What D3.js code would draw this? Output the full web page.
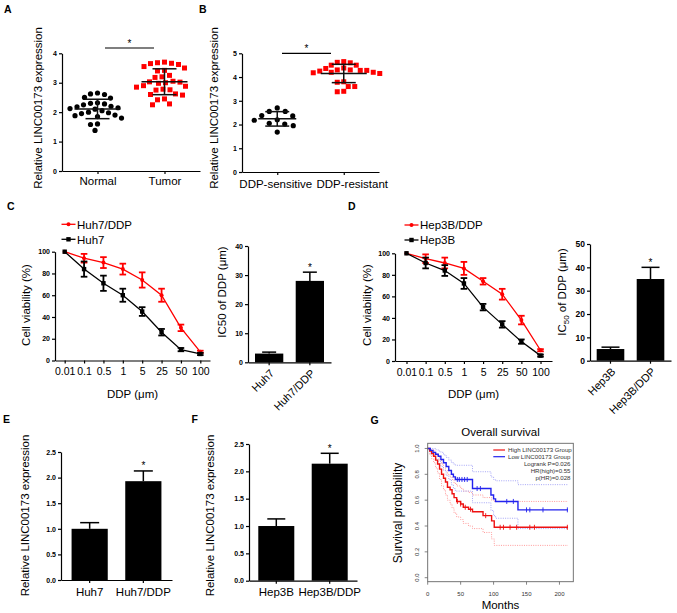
<!DOCTYPE html>
<html><head><meta charset="utf-8">
<script src="https://cdn.jsdelivr.net/npm/d3@7"></script>
<style>body{margin:0;background:#fff}</style>
</head><body>
<script>
// ================= DATA =================
// Panel A
const catsA = ["Normal", "Tumor"];
const normalVals = [2.65,2.62,2.6,2.5,2.48,2.32,2.3,2.28,2.25,2.2,2.18,2.15,2.12,2.1,2.05,2.0,1.98,1.95,1.9,1.88,1.85,1.8,1.6,1.58,1.38];
const tumorVals = [3.7,3.68,3.66,3.65,3.62,3.55,3.5,3.42,3.4,3.25,3.2,3.18,3.05,3.03,3.02,3.0,2.98,2.9,2.88,2.85,2.78,2.76,2.75,2.62,2.6,2.58,2.45,2.42,2.28,2.25];
const ticksA = [0,1,2,3,4];
// Panel B
const catsB = ["DDP-sensitive", "DDP-resistant"];
const sensitiveVals = [2.7,2.55,2.55,2.38,2.36,2.2,2.18,2.05,2.02,1.95,1.68];
const resistantVals = [4.65,4.62,4.6,4.5,4.5,4.38,4.36,4.3,4.3,4.28,4.28,4.25,4.2,4.2,4.18,4.15,3.8,3.78,3.6,3.6,3.4,3.38];
const ticksB = [0,1,2,3,4,5];
// Panels C / D line charts
const doseLabels = ["0.01","0.1","0.5","1","5","25","50","100"];
const viabTicks = [0,20,40,60,80,100];
const huh7DdpMean = [100,94,90,84,74,60,30,8];
const huh7DdpErr  = [0,4,5,5,7,6,3,1];
const huh7Mean    = [100,84,71,60,45,26,10,6];
const huh7Err     = [0,7,7,6,4,3,1.5,1];
const hep3bDdpMean = [100,95,91,86,74,62,38,10];
const hep3bDdpErr  = [0,4,5,6,3,5,4,1];
const hep3bMean    = [100,91,84,72,50,34,18,5];
const hep3bErr     = [0,5,5,5,3,3,2,1];
// IC50 insets
const ic50HuhCats = ["Huh7","Huh7/DDP"];
const ic50HuhVals = [3,28];
const ic50HuhErr  = [0.5,3];
const ic50HuhTicks = [0,10,20,30,40];
const ic50HepCats = ["Hep3B","Hep3B/DDP"];
const ic50HepVals = [5,35];
const ic50HepErr  = [0.8,5];
const ic50HepTicks = [0,10,20,30,40,50];
// Panels E / F
const exprHuhCats = ["Huh7","Huh7/DDP"];
const exprHuhVals = [1.0,1.93];
const exprHuhErr  = [0.12,0.2];
const exprHepCats = ["Hep3B","Hep3B/DDP"];
const exprHepVals = [1.0,2.14];
const exprHepErr  = [0.13,0.19];
const exprTicks = [0,0.5,1.0,1.5,2.0,2.5];
// Panel G survival
const highTimes = [0,3,6,9,12,15,18,21,24,27,30,34,37,40,44,50,54,62,68,84,97,101,213];
const highSurv  = [1,0.98,0.96,0.94,0.91,0.88,0.84,0.80,0.77,0.74,0.70,0.68,0.65,0.62,0.59,0.57,0.545,0.53,0.51,0.48,0.44,0.39,0.39];
const highUpper = [1,1,0.99,0.98,0.96,0.94,0.91,0.88,0.85,0.83,0.80,0.78,0.76,0.73,0.71,0.69,0.67,0.66,0.64,0.62,0.60,0.59,0.59];
const highLower = [1,0.95,0.92,0.89,0.85,0.81,0.76,0.71,0.68,0.64,0.60,0.57,0.54,0.50,0.47,0.45,0.42,0.40,0.38,0.35,0.30,0.25,0.25];
const highCensor = [45,50,57,65,88,110,115,125,135,155,162,212];
const lowTimes = [0,4,8,12,16,20,24,28,32,36,39,42,68,96,100,103,137,213];
const lowSurv  = [1,0.985,0.97,0.955,0.94,0.915,0.89,0.86,0.83,0.80,0.78,0.76,0.69,0.64,0.61,0.59,0.525,0.525];
const lowUpper = [1,1,1,0.99,0.98,0.97,0.95,0.93,0.91,0.89,0.88,0.87,0.82,0.78,0.76,0.75,0.72,0.72];
const lowLower = [1,0.96,0.94,0.92,0.90,0.86,0.83,0.79,0.76,0.72,0.69,0.67,0.58,0.52,0.48,0.46,0.38,0.38];
const lowCensor = [45,48,52,56,60,75,80,120,130,150,155,175,212];
const survXTicks = [0,50,100,150,200];
const survYTicks = [0,0.2,0.4,0.6,0.8,1.0];
const survLegend = ["High LINC00173 Group","Low LINC00173 Group"];
const survStats = ["Logrank P=0.026","HR(high)=0.55","p(HR)=0.028"];

// ================= DRAWING =================
const FONT = "'Liberation Sans', Arial, Helvetica, sans-serif";
const RED = "#ff0000";
const svg = d3.select("body").append("svg").attr("width",677).attr("height",613).attr("font-family",FONT);
svg.append("rect").attr("width",677).attr("height",613).attr("fill","#fff");

function panelLabel(t,x,y){ svg.append("text").attr("x",x).attr("y",y).attr("font-size",10.5).attr("font-weight","bold").text(t); }
function yLabel(text,cx,cy,size){
  return svg.append("text").attr("transform",`translate(${cx},${cy}) rotate(-90)`).attr("text-anchor","middle")
    .attr("dy","0.35em").attr("font-size",size||11.5).text(text);
}
function styleAxis(g,fs,bold){
  g.attr("font-family",FONT).attr("font-size",fs);
  g.select(".domain").attr("stroke","#000").attr("stroke-width",1.2);
  g.selectAll(".tick line").attr("stroke","#000").attr("stroke-width",1.2);
  g.selectAll(".tick text").attr("fill","#000").attr("font-weight",bold?"bold":"normal");
}
function star(x,y){ svg.append("text").attr("x",x).attr("y",y).attr("text-anchor","middle").attr("font-size",10).text("*"); }

function beeswarm(vals,y,d){
  const pts = vals.map(v=>({v,y:y(v)})).sort((a,b)=>d3.descending(a.v,b.v));
  const placed=[];
  pts.forEach(p=>{
    let off=0;
    for(let k=0;k<400;k++){
      const c=(k%2===0?1:-1)*Math.ceil(k/2)*0.5;
      if(placed.every(q=>Math.hypot(q.x-c,q.y-p.y)>=d)){off=c;break;}
    }
    p.x=off; placed.push(p);
  });
  return placed;
}

function scatterPanel(o){
  const y=d3.scaleLinear().domain([0,o.ticks[o.ticks.length-1]]).range([o.y0,o.y1]);
  const x=d3.scalePoint().domain(o.cats).range([o.x0,o.x1]).padding(o.pad);
  const gy=svg.append("g").attr("transform",`translate(${o.x0},0)`)
    .call(d3.axisLeft(y).tickValues(o.ticks).tickSize(3).tickSizeOuter(0).tickPadding(2).tickFormat(d3.format("d")));
  styleAxis(gy,7,true);
  const gx=svg.append("g").attr("transform",`translate(0,${o.y0})`)
    .call(d3.axisBottom(x).tickSize(3).tickSizeOuter(0).tickPadding(o.xpad));
  styleAxis(gx,11.5,false);
  gx.selectAll(".tick text").attr("dx",(d,i)=>o.lblDx[i]);
  o.series.forEach((vals,i)=>{
    const cx=x(o.cats[i]);
    const pts=beeswarm(vals,y,o.dia[i]);
    if(i===0){
      svg.append("g").selectAll("circle").data(pts).join("circle")
        .attr("cx",d=>cx+d.x).attr("cy",d=>d.y).attr("r",2.6).attr("fill","#000");
    } else {
      svg.append("g").selectAll("rect").data(pts).join("rect")
        .attr("x",d=>cx+d.x-2.5).attr("y",d=>d.y-2.5).attr("width",5).attr("height",5).attr("fill",RED);
    }
    const m=d3.mean(vals), sd=d3.deviation(vals);
    const g=svg.append("g").attr("stroke","#111").attr("stroke-width",1.5);
    g.append("line").attr("x1",cx-o.mw[i]).attr("x2",cx+o.mw[i]).attr("y1",y(m)).attr("y2",y(m));
    g.append("line").attr("x1",cx).attr("x2",cx).attr("y1",y(m-sd)).attr("y2",y(m+sd));
    [m-sd,m+sd].forEach(v=>g.append("line").attr("x1",cx-o.cw).attr("x2",cx+o.cw).attr("y1",y(v)).attr("y2",y(v)));
  });
  svg.append("line").attr("x1",o.sig[0]).attr("x2",o.sig[1]).attr("y1",o.sig[2]).attr("y2",o.sig[2]).attr("stroke","#000").attr("stroke-width",1.2);
  star((o.sig[0]+o.sig[1])/2,o.sig[2]-1.5);
}

function linePanel(o){
  const x=d3.scalePoint().domain(doseLabels).range([o.x0,o.x1]).padding(o.pad);
  const y=d3.scaleLinear().domain([0,100]).range([o.y0,o.y1]);
  const gy=svg.append("g").attr("transform",`translate(${o.x0},0)`)
    .call(d3.axisLeft(y).tickValues(viabTicks).tickSize(3).tickSizeOuter(0).tickPadding(2));
  styleAxis(gy,7,true);
  const gx=svg.append("g").attr("transform",`translate(0,${o.y0})`)
    .call(d3.axisBottom(x).tickSize(3).tickSizeOuter(0).tickPadding(4.5));
  styleAxis(gx,10.5,false);
  svg.append("text").attr("x",(o.x0+o.x1)/2).attr("y",o.y0+37).attr("text-anchor","middle").attr("font-size",11.5).text("DDP (\u03bcm)");
  o.series.forEach(s=>{
    const g=svg.append("g");
    const line=d3.line().x((d,i)=>x(doseLabels[i])).y(d=>y(d));
    g.append("path").attr("d",line(s.mean)).attr("fill","none").attr("stroke",s.color).attr("stroke-width",1.3);
    s.mean.forEach((m,i)=>{
      const e=s.err[i], cx=x(doseLabels[i]);
      if(e>0){
        g.append("line").attr("x1",cx).attr("x2",cx).attr("y1",y(m-e)).attr("y2",y(m+e)).attr("stroke",s.color).attr("stroke-width",1.8);
        [m-e,m+e].forEach(v=>g.append("line").attr("x1",cx-3.3).attr("x2",cx+3.3).attr("y1",y(v)).attr("y2",y(v)).attr("stroke",s.color).attr("stroke-width",1.8));
      }
      if(s.shape==="circle") g.append("circle").attr("cx",cx).attr("cy",y(m)).attr("r",2).attr("fill",s.color);
      else g.append("rect").attr("x",cx-2.2).attr("y",y(m)-2.2).attr("width",4.4).attr("height",4.4).attr("fill",s.color);
    });
  });
  // legend
  o.series.forEach((s,i)=>{
    const ly=o.legY+i*15, lx=o.legX;
    svg.append("line").attr("x1",lx).attr("x2",lx+14).attr("y1",ly).attr("y2",ly).attr("stroke",s.color).attr("stroke-width",1.3);
    if(s.shape==="circle") svg.append("circle").attr("cx",lx+7).attr("cy",ly).attr("r",2).attr("fill",s.color);
    else svg.append("rect").attr("x",lx+4.8).attr("y",ly-2.2).attr("width",4.4).attr("height",4.4).attr("fill",s.color);
    svg.append("text").attr("x",lx+15.5).attr("y",ly+4.2).attr("font-size",11.5).text(s.name);
  });
}

function barPanel(o){
  const x=d3.scaleBand().domain(o.cats).range([o.x0,o.x1]).paddingInner(o.pi).paddingOuter(o.po);
  const y=d3.scaleLinear().domain([0,o.ticks[o.ticks.length-1]]).range([o.y0,o.y1]);
  const gy=svg.append("g").attr("transform",`translate(${o.x0},0)`)
    .call(d3.axisLeft(y).tickValues(o.ticks).tickSize(3).tickSizeOuter(0).tickPadding(2).tickFormat(d3.format(o.fmt)));
  styleAxis(gy,o.tfs||7,true);
  o.vals.forEach((v,i)=>{
    const c=o.cats[i], cx=x(c)+x.bandwidth()/2, top=y(v+o.err[i]);
    svg.append("line").attr("x1",cx).attr("x2",cx).attr("y1",y(v)).attr("y2",top).attr("stroke","#000").attr("stroke-width",1.5);
    svg.append("line").attr("x1",cx-o.cap).attr("x2",cx+o.cap).attr("y1",top).attr("y2",top).attr("stroke","#000").attr("stroke-width",1.5);
    svg.append("rect").attr("x",x(c)).attr("y",y(v)).attr("width",x.bandwidth()).attr("height",o.y0-y(v)).attr("fill","#000");
    if(i===1) star(cx,top-1.5);
  });
  const gx=svg.append("g").attr("transform",`translate(0,${o.y0})`)
    .call(d3.axisBottom(x).tickSize(3).tickSizeOuter(0).tickPadding(4.5));
  styleAxis(gx,11.5,false);
  if(o.rotate){
    gx.selectAll(".tick text").attr("text-anchor","end").attr("font-size",11).attr("dy","0.35em")
      .attr("transform","translate(3,9) rotate(-45)").attr("y",0).attr("x",0);
  }
}

// ---------- Panel labels ----------
panelLabel("A",4,13); panelLabel("B",199,13);
panelLabel("C",7,209.5); panelLabel("D",348,209.5);
panelLabel("E",3,422.5); panelLabel("F",191.5,422.5); panelLabel("G",370.5,423.5);

// ---------- A ----------
scatterPanel({cats:catsA,series:[normalVals,tumorVals],ticks:ticksA,x0:62,x1:200,pad:0.53,y0:171,y1:53.3,xpad:3,
  dia:[6.8,6.8],mw:[23,23],cw:12,sig:[105,154,48],lblDx:[0,0]});
yLabel("Relative LINC00173 expression",37.5,108);
// ---------- B ----------
scatterPanel({cats:catsB,series:[sensitiveVals,resistantVals],ticks:ticksB,x0:242,x1:379,pad:0.53,y0:172,y1:53.3,xpad:5,
  dia:[8.5,6.4],mw:[19,23],cw:12,sig:[282,331,53.3],lblDx:[-2,8]});
yLabel("Relative LINC00173 expression",214,108);

// ---------- C ----------
linePanel({x0:55,x1:210,pad:0.5,y0:360.5,y1:251.7,legX:61.5,legY:224.3,
  series:[{name:"Huh7/DDP",mean:huh7DdpMean,err:huh7DdpErr,color:RED,shape:"circle"},
          {name:"Huh7",mean:huh7Mean,err:huh7Err,color:"#000",shape:"square"}]});
yLabel("Cell viability (%)",26,305);
barPanel({cats:ic50HuhCats,vals:ic50HuhVals,err:ic50HuhErr,ticks:ic50HuhTicks,fmt:"d",x0:248,x1:331,pi:0.305,po:0.172,y0:362.3,y1:246,cap:7,rotate:true});
yLabel("IC50 of DDP (\u03bcm)",222,292);

// ---------- D ----------
linePanel({x0:395,x1:552,pad:0.6,y0:361,y1:253.3,legX:404.5,legY:225,
  series:[{name:"Hep3B/DDP",mean:hep3bDdpMean,err:hep3bDdpErr,color:RED,shape:"circle"},
          {name:"Hep3B",mean:hep3bMean,err:hep3bErr,color:"#000",shape:"square"}]});
yLabel("Cell viability (%)",367,305);
barPanel({cats:ic50HepCats,vals:ic50HepVals,err:ic50HepErr,ticks:ic50HepTicks,fmt:"d",x0:590,x1:671,pi:0.31,po:0.167,y0:360.7,y1:244,cap:9,rotate:true,tfs:8.5});
{
  const t=yLabel("",562,292);
  t.append("tspan").text("IC");
  t.append("tspan").attr("font-size",8).attr("dy","3").text("50");
  t.append("tspan").attr("dy","-3").text(" of DDP (\u03bcm)");
}

// ---------- E ----------
barPanel({cats:exprHuhCats,vals:exprHuhVals,err:exprHuhErr,ticks:exprTicks,fmt:".1f",x0:61,x1:172,pi:0.326,po:0.197,y0:580,y1:452,cap:9.5});
yLabel("Relative LINC00173 expression",25,515.5);
// ---------- F ----------
barPanel({cats:exprHepCats,vals:exprHepVals,err:exprHepErr,ticks:exprTicks,fmt:".1f",x0:249,x1:357,pi:0.326,po:0.174,y0:580.7,y1:444,cap:9});
yLabel("Relative LINC00173 expression",210,515.5);

// ---------- G survival ----------
{
  const xs=d3.scaleLinear().domain([0,221]).range([427.7,573.3]);
  const ys=d3.scaleLinear().domain([-0.031,1.04]).range([581.7,443.3]);
  const g=svg.append("g");
  const step=d3.line().x(d=>xs(d[0])).y(d=>ys(d[1])).curve(d3.curveStepAfter);
  const groups=[
    {times:highTimes,surv:highSurv,up:highUpper,lo:highLower,cens:highCensor,col:"#ee1111",light:"#ff8f8f"},
    {times:lowTimes,surv:lowSurv,up:lowUpper,lo:lowLower,cens:lowCensor,col:"#2222ee",light:"#9c9cf5"}];
  groups.forEach(gr=>{
    [gr.up,gr.lo].forEach(arr=>{
      g.append("path").attr("d",step(gr.times.map((t,i)=>[t,arr[i]]))).attr("fill","none")
        .attr("stroke",gr.light).attr("stroke-width",0.9).attr("stroke-dasharray","1,1.3");
    });
  });
  groups.forEach(gr=>{
    g.append("path").attr("d",step(gr.times.map((t,i)=>[t,gr.surv[i]]))).attr("fill","none")
      .attr("stroke",gr.col).attr("stroke-width",1.4);
    gr.cens.forEach(c=>{
      const idx=d3.bisectRight(gr.times,c)-1;
      const s=gr.surv[Math.max(0,idx)];
      g.append("line").attr("x1",xs(c)).attr("x2",xs(c)).attr("y1",ys(s)-2.5).attr("y2",ys(s)+2.5).attr("stroke",gr.col).attr("stroke-width",0.9);
    });
  });
  svg.append("rect").attr("x",427.7).attr("y",443.3).attr("width",145.6).attr("height",138.4)
    .attr("fill","none").attr("stroke","#666").attr("stroke-width",0.9);
  survXTicks.forEach(t=>{
    svg.append("line").attr("x1",xs(t)).attr("x2",xs(t)).attr("y1",581.7).attr("y2",584.7).attr("stroke","#666").attr("stroke-width",0.8);
    svg.append("text").attr("x",xs(t)).attr("y",595.5).attr("text-anchor","middle").attr("font-size",6).attr("fill","#333").text(t);
  });
  survYTicks.forEach(t=>{
    svg.append("line").attr("x1",427.7).attr("x2",424.7).attr("y1",ys(t)).attr("y2",ys(t)).attr("stroke","#666").attr("stroke-width",0.8);
    svg.append("text").attr("transform",`translate(418.5,${ys(t)}) rotate(-90)`).attr("text-anchor","middle")
      .attr("font-size",6).attr("fill","#333").text(d3.format(".1f")(t));
  });
  svg.append("text").attr("x",500.5).attr("y",436).attr("text-anchor","middle").attr("font-size",11.5).text("Overall survival");
  svg.append("text").attr("x",500.5).attr("y",609).attr("text-anchor","middle").attr("font-size",11.5).text("Months");
  yLabel("Survival probability",397.5,513,12);
  survLegend.forEach((t,i)=>{
    const ly=450+i*6.7;
    svg.append("line").attr("x1",493.3).attr("x2",505).attr("y1",ly).attr("y2",ly).attr("stroke",groups[i].col).attr("stroke-width",1.2);
    svg.append("text").attr("x",508).attr("y",ly+2).attr("font-size",6.1).attr("fill","#333").text(t);
  });
  survStats.forEach((t,i)=>{
    svg.append("text").attr("x",570.5).attr("y",465.5+i*7.3).attr("text-anchor","end").attr("font-size",6.1).attr("fill","#333").text(t);
  });
}
</script>
</body></html>
